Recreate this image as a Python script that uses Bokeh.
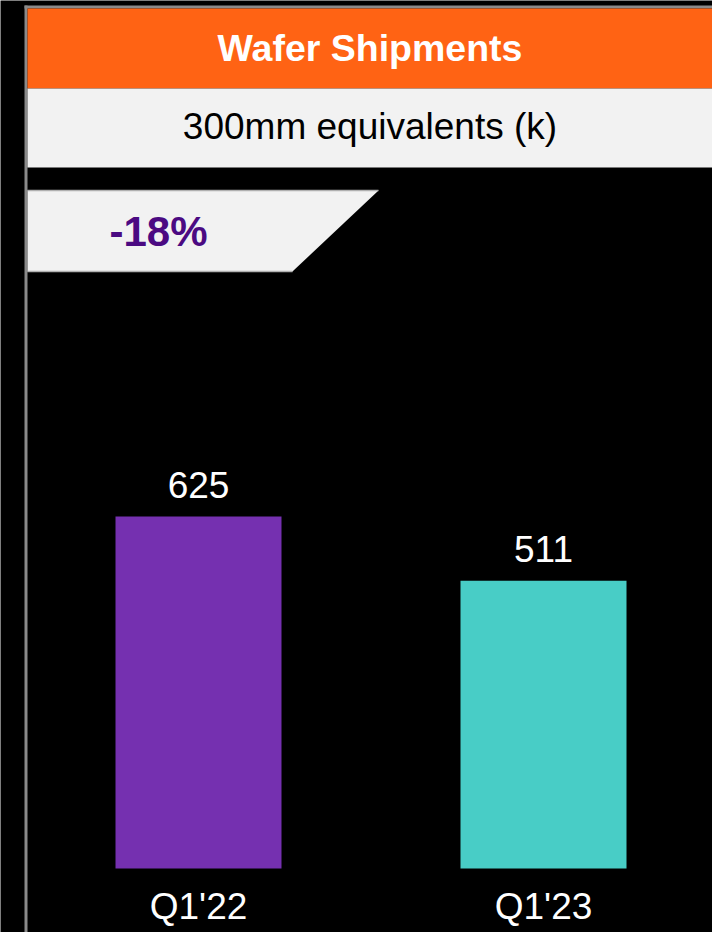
from bokeh.plotting import figure
from bokeh.models import Range1d
from bokeh.core.properties import value
from bokeh.embed import file_html
from bokeh.resources import INLINE

# Data
categories = ["Q1'22", "Q1'23"]
shipments = [625, 511]          # 300mm equivalents, thousands
bar_colors = ["#7530B0", "#48CDC6"]
change_label = "-18%"
title_text = "Wafer Shipments"
subtitle_text = "300mm equivalents (k)"

W, H = 712, 932
FONT = "Liberation Sans"

# Data scale: 0 sits at 868 px from the top, 0.5632 px per unit
PX_PER_UNIT = 0.5632
BASE_PX = 868
y_start = -(H - BASE_PX) / PX_PER_UNIT
y_end = BASE_PX / PX_PER_UNIT

# x: one unit per category, 345 px apart
PX_PER_CAT = 345
FIRST_CENTER = 198
x_start = -FIRST_CENTER / PX_PER_CAT
x_end = (W - FIRST_CENTER) / PX_PER_CAT

p = figure(width=W, height=H, output_backend="svg", toolbar_location=None,
           x_range=Range1d(x_start, x_end), y_range=Range1d(y_start, y_end),
           x_axis_type=None, y_axis_type=None, min_border=0,
           background_fill_color="black", border_fill_color="black",
           outline_line_color=None)
p.grid.visible = False

# Screen-space ranges for the panel decoration (top-down pixels)
p.extra_x_ranges = {"px": Range1d(0, W)}
p.extra_y_ranges = {"px": Range1d(H, 0)}
deco = dict(x_range_name="px", y_range_name="px")

# Panel frame: grey rules along the top and left
p.quad(left=24, right=W, top=5, bottom=8, fill_color="#8A8A8A", line_color=None, **deco)
p.quad(left=24, right=27, top=5, bottom=H, fill_color="#8A8A8A", line_color=None, **deco)

# Header bands
p.quad(left=27, right=W, top=8, bottom=88, fill_color="#FF6314", line_color=None, **deco)
p.quad(left=27, right=W, top=88, bottom=167, fill_color="#F2F2F2", line_color=None, **deco)

panel_cx = (27 + W) / 2
p.text(x=[panel_cx], y=[47], text=[title_text], text_color="white",
       text_font=value(FONT), text_font_style="bold", text_font_size="37.5px",
       text_align="center", text_baseline="middle", **deco)
p.text(x=[panel_cx], y=[126], text=[subtitle_text], text_color="black",
       text_font=value(FONT), text_font_size="37px",
       text_align="center", text_baseline="middle", **deco)

# Change badge
p.patch(x=[27, 378, 292, 27], y=[190, 190, 271, 271], fill_color="#F2F2F2",
        line_color=None, **deco)
p.line(x=[27, 378], y=[190, 190], line_color="#B0B0B0", line_width=1.5, **deco)
p.line(x=[27, 292], y=[271, 271], line_color="#B0B0B0", line_width=1.5, **deco)
p.text(x=[158], y=[231], text=[change_label], text_color="#4B0A82",
       text_font=value(FONT), text_font_style="bold", text_font_size="42px",
       text_align="center", text_baseline="middle", **deco)

# Bars
idx = list(range(len(categories)))
p.vbar(x=idx, top=shipments, bottom=0, width=166 / PX_PER_CAT,
       fill_color=bar_colors, line_color=None)

# Value labels above each bar
p.text(x=idx, y=shipments, text=[str(v) for v in shipments], text_color="white",
       text_font=value(FONT), text_font_size="37px",
       text_align="center", text_baseline="middle", y_offset=-32)

# Category labels below the baseline
p.text(x=idx, y=[0, 0], text=categories, text_color="white",
       text_font=value(FONT), text_font_size="37px",
       text_align="center", text_baseline="middle", y_offset=38)

open("out.html", "w").write(file_html(p, INLINE))
